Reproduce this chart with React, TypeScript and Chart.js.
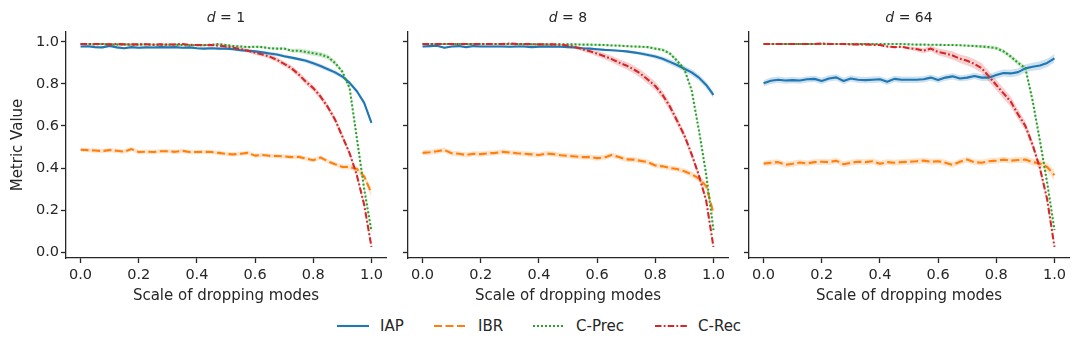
import React, { useEffect, useRef } from "react";
import { Chart, registerables } from "chart.js";

Chart.register(...registerables);

const FONT = "'DejaVu Sans', sans-serif";
const TEXT_COLOR = "#262626";

// ---------- data ----------
const X_VALUES = [0, 0.025, 0.05, 0.075, 0.1, 0.125, 0.15, 0.175, 0.2, 0.225, 0.25, 0.275, 0.3, 0.325, 0.35, 0.375, 0.4, 0.425, 0.45, 0.475, 0.5, 0.525, 0.55, 0.575, 0.6, 0.625, 0.65, 0.675, 0.7, 0.725, 0.75, 0.775, 0.8, 0.825, 0.85, 0.875, 0.9, 0.925, 0.95, 0.975, 1];

const X_TICKS = [0, 0.2, 0.4, 0.6, 0.8, 1.0];
const Y_TICKS = [0, 0.2, 0.4, 0.6, 0.8, 1.0];

const SERIES_NAMES = ["IAP", "IBR", "C-Prec", "C-Rec"];
const PANEL_TITLES = ["1", "8", "64"];

// d = 1
const IAP_D1 = [0.978, 0.979, 0.975, 0.974, 0.981, 0.974, 0.97, 0.975, 0.972, 0.974, 0.973, 0.975, 0.974, 0.975, 0.972, 0.974, 0.97, 0.968, 0.97, 0.968, 0.968, 0.965, 0.96, 0.958, 0.955, 0.95, 0.945, 0.94, 0.932, 0.925, 0.918, 0.91, 0.898, 0.885, 0.87, 0.855, 0.835, 0.805, 0.765, 0.71, 0.615];
const IBR_D1 = [0.487, 0.485, 0.483, 0.481, 0.485, 0.482, 0.478, 0.49, 0.476, 0.478, 0.476, 0.48, 0.48, 0.477, 0.482, 0.476, 0.476, 0.477, 0.476, 0.472, 0.467, 0.465, 0.468, 0.472, 0.459, 0.462, 0.458, 0.457, 0.455, 0.452, 0.453, 0.445, 0.437, 0.45, 0.432, 0.418, 0.405, 0.405, 0.395, 0.36, 0.28];
const CPREC_D1 = [0.99, 0.99, 0.988, 0.99, 0.988, 0.987, 0.988, 0.986, 0.987, 0.988, 0.986, 0.986, 0.987, 0.986, 0.985, 0.984, 0.984, 0.985, 0.986, 0.99, 0.985, 0.98, 0.978, 0.975, 0.977, 0.975, 0.97, 0.968, 0.968, 0.958, 0.958, 0.952, 0.946, 0.94, 0.928, 0.9, 0.858, 0.78, 0.54, 0.3, 0.1];
const CREC_D1 = [0.99, 0.99, 0.99, 0.99, 0.988, 0.99, 0.988, 0.988, 0.988, 0.989, 0.987, 0.988, 0.987, 0.988, 0.99, 0.986, 0.985, 0.984, 0.985, 0.982, 0.978, 0.972, 0.966, 0.958, 0.948, 0.94, 0.93, 0.915, 0.895, 0.875, 0.845, 0.81, 0.78, 0.74, 0.69, 0.63, 0.55, 0.47, 0.365, 0.225, 0.025];

const IAP_D1_ERR = [0.005, 0.005, 0.005, 0.005, 0.005, 0.005, 0.005, 0.005, 0.005, 0.005, 0.005, 0.005, 0.005, 0.005, 0.005, 0.005, 0.005, 0.005, 0.005, 0.005, 0.006, 0.006, 0.007, 0.007, 0.008, 0.008, 0.008, 0.008, 0.008, 0.008, 0.008, 0.009, 0.01, 0.01, 0.01, 0.01, 0.01, 0.01, 0.01, 0.01, 0.012];
const IBR_D1_ERR = [0.01, 0.01, 0.01, 0.01, 0.01, 0.01, 0.01, 0.01, 0.01, 0.01, 0.01, 0.01, 0.01, 0.01, 0.01, 0.01, 0.01, 0.01, 0.01, 0.01, 0.01, 0.01, 0.01, 0.01, 0.01, 0.01, 0.01, 0.01, 0.01, 0.01, 0.01, 0.01, 0.01, 0.01, 0.01, 0.01, 0.012, 0.012, 0.014, 0.016, 0.02];
const CPREC_D1_ERR = [0.005, 0.005, 0.005, 0.005, 0.005, 0.005, 0.005, 0.005, 0.005, 0.005, 0.005, 0.005, 0.005, 0.005, 0.005, 0.005, 0.005, 0.005, 0.005, 0.005, 0.005, 0.005, 0.005, 0.005, 0.005, 0.005, 0.005, 0.005, 0.006, 0.008, 0.01, 0.012, 0.012, 0.012, 0.012, 0.012, 0.01, 0.01, 0.01, 0.01, 0.01];
const CREC_D1_ERR = [0.004, 0.004, 0.004, 0.004, 0.004, 0.004, 0.004, 0.004, 0.004, 0.004, 0.004, 0.004, 0.004, 0.004, 0.004, 0.004, 0.004, 0.004, 0.004, 0.004, 0.006, 0.007, 0.008, 0.009, 0.01, 0.01, 0.012, 0.012, 0.012, 0.013, 0.014, 0.015, 0.015, 0.015, 0.015, 0.015, 0.014, 0.013, 0.012, 0.01, 0.008];

// d = 8
const IAP_D8 = [0.978, 0.98, 0.982, 0.972, 0.978, 0.98, 0.975, 0.98, 0.978, 0.978, 0.978, 0.978, 0.977, 0.978, 0.978, 0.975, 0.977, 0.978, 0.977, 0.977, 0.975, 0.973, 0.97, 0.968, 0.965, 0.962, 0.96, 0.958, 0.955, 0.95, 0.945, 0.938, 0.93, 0.92, 0.905, 0.89, 0.872, 0.855, 0.83, 0.795, 0.748];
const IBR_D8 = [0.472, 0.475, 0.48, 0.486, 0.47, 0.468, 0.462, 0.468, 0.466, 0.47, 0.472, 0.477, 0.474, 0.47, 0.468, 0.465, 0.462, 0.469, 0.466, 0.461, 0.458, 0.455, 0.452, 0.452, 0.447, 0.45, 0.462, 0.452, 0.441, 0.44, 0.434, 0.428, 0.412, 0.408, 0.4, 0.395, 0.385, 0.37, 0.35, 0.315, 0.185];
const CPREC_D8 = [0.99, 0.99, 0.99, 0.99, 0.99, 0.99, 0.99, 0.99, 0.99, 0.99, 0.99, 0.99, 0.99, 0.989, 0.989, 0.988, 0.988, 0.988, 0.987, 0.988, 0.988, 0.988, 0.987, 0.987, 0.986, 0.985, 0.983, 0.982, 0.98, 0.978, 0.977, 0.975, 0.968, 0.962, 0.945, 0.91, 0.87, 0.77, 0.58, 0.37, 0.105];
const CREC_D8 = [0.99, 0.99, 0.99, 0.99, 0.99, 0.99, 0.99, 0.99, 0.99, 0.99, 0.99, 0.99, 0.992, 0.99, 0.99, 0.989, 0.988, 0.988, 0.988, 0.987, 0.982, 0.975, 0.965, 0.955, 0.945, 0.932, 0.918, 0.902, 0.888, 0.87, 0.848, 0.82, 0.79, 0.748, 0.693, 0.625, 0.555, 0.465, 0.365, 0.245, 0.025];

const IAP_D8_ERR = [0.005, 0.005, 0.005, 0.005, 0.005, 0.005, 0.005, 0.005, 0.005, 0.005, 0.005, 0.005, 0.005, 0.005, 0.005, 0.005, 0.005, 0.005, 0.005, 0.005, 0.005, 0.005, 0.005, 0.005, 0.005, 0.005, 0.005, 0.005, 0.006, 0.007, 0.008, 0.009, 0.01, 0.011, 0.012, 0.013, 0.014, 0.015, 0.015, 0.015, 0.015];
const IBR_D8_ERR = [0.012, 0.012, 0.012, 0.012, 0.012, 0.012, 0.012, 0.012, 0.012, 0.012, 0.012, 0.012, 0.012, 0.012, 0.012, 0.012, 0.012, 0.012, 0.012, 0.012, 0.012, 0.012, 0.012, 0.012, 0.012, 0.012, 0.012, 0.012, 0.012, 0.012, 0.012, 0.012, 0.012, 0.012, 0.012, 0.012, 0.013, 0.014, 0.016, 0.018, 0.02];
const CPREC_D8_ERR = [0.004, 0.004, 0.004, 0.004, 0.004, 0.004, 0.004, 0.004, 0.004, 0.004, 0.004, 0.004, 0.004, 0.004, 0.004, 0.004, 0.004, 0.004, 0.004, 0.004, 0.004, 0.004, 0.004, 0.004, 0.004, 0.004, 0.004, 0.004, 0.004, 0.004, 0.005, 0.006, 0.007, 0.008, 0.009, 0.01, 0.01, 0.01, 0.01, 0.01, 0.01];
const CREC_D8_ERR = [0.004, 0.004, 0.004, 0.004, 0.004, 0.004, 0.004, 0.004, 0.004, 0.004, 0.004, 0.004, 0.004, 0.004, 0.004, 0.004, 0.004, 0.004, 0.004, 0.004, 0.006, 0.008, 0.01, 0.012, 0.014, 0.015, 0.016, 0.017, 0.018, 0.019, 0.02, 0.02, 0.02, 0.02, 0.02, 0.019, 0.018, 0.016, 0.014, 0.012, 0.008];

// d = 64
const IAP_D64 = [0.803, 0.815, 0.82, 0.816, 0.818, 0.816, 0.822, 0.824, 0.814, 0.826, 0.831, 0.814, 0.826, 0.82, 0.818, 0.82, 0.822, 0.81, 0.824, 0.82, 0.82, 0.82, 0.822, 0.83, 0.819, 0.83, 0.836, 0.826, 0.83, 0.838, 0.83, 0.83, 0.842, 0.852, 0.85, 0.856, 0.874, 0.882, 0.888, 0.9, 0.922];
const IBR_D64 = [0.421, 0.425, 0.428, 0.415, 0.42, 0.426, 0.422, 0.428, 0.43, 0.428, 0.435, 0.418, 0.425, 0.43, 0.428, 0.432, 0.42, 0.428, 0.425, 0.428, 0.43, 0.432, 0.435, 0.43, 0.432, 0.425, 0.415, 0.43, 0.44, 0.428, 0.425, 0.432, 0.435, 0.44, 0.435, 0.438, 0.44, 0.428, 0.422, 0.405, 0.366];
const CPREC_D64 = [0.99, 0.99, 0.99, 0.99, 0.99, 0.99, 0.99, 0.99, 0.99, 0.99, 0.99, 0.99, 0.99, 0.99, 0.99, 0.99, 0.99, 0.99, 0.99, 0.99, 0.988, 0.987, 0.987, 0.986, 0.986, 0.985, 0.985, 0.984, 0.982, 0.98, 0.978, 0.975, 0.97, 0.955, 0.93, 0.9, 0.875, 0.72, 0.53, 0.33, 0.105];
const CREC_D64 = [0.99, 0.99, 0.99, 0.99, 0.99, 0.99, 0.99, 0.99, 0.992, 0.99, 0.99, 0.99, 0.988, 0.988, 0.988, 0.986, 0.985, 0.978, 0.975, 0.977, 0.97, 0.966, 0.958, 0.968, 0.952, 0.945, 0.935, 0.92, 0.91, 0.895, 0.875, 0.835, 0.795, 0.755, 0.715, 0.655, 0.6, 0.51, 0.4, 0.25, 0.025];

const IAP_D64_ERR = [0.015, 0.015, 0.015, 0.015, 0.015, 0.015, 0.015, 0.015, 0.015, 0.015, 0.015, 0.015, 0.015, 0.015, 0.015, 0.015, 0.015, 0.015, 0.015, 0.015, 0.015, 0.015, 0.015, 0.015, 0.015, 0.015, 0.015, 0.015, 0.015, 0.015, 0.016, 0.016, 0.017, 0.017, 0.018, 0.018, 0.019, 0.019, 0.02, 0.02, 0.02];
const IBR_D64_ERR = [0.014, 0.014, 0.014, 0.014, 0.014, 0.014, 0.014, 0.014, 0.014, 0.014, 0.014, 0.014, 0.014, 0.014, 0.014, 0.014, 0.014, 0.014, 0.014, 0.014, 0.014, 0.014, 0.014, 0.014, 0.014, 0.014, 0.014, 0.014, 0.014, 0.014, 0.014, 0.014, 0.014, 0.014, 0.014, 0.014, 0.015, 0.016, 0.018, 0.02, 0.025];
const CPREC_D64_ERR = [0.004, 0.004, 0.004, 0.004, 0.004, 0.004, 0.004, 0.004, 0.004, 0.004, 0.004, 0.004, 0.004, 0.004, 0.004, 0.004, 0.004, 0.004, 0.004, 0.004, 0.004, 0.004, 0.004, 0.004, 0.004, 0.004, 0.004, 0.004, 0.005, 0.006, 0.007, 0.008, 0.009, 0.01, 0.011, 0.012, 0.012, 0.012, 0.012, 0.01, 0.01];
const CREC_D64_ERR = [0.005, 0.005, 0.005, 0.005, 0.005, 0.005, 0.005, 0.005, 0.005, 0.005, 0.005, 0.005, 0.005, 0.005, 0.005, 0.005, 0.005, 0.005, 0.005, 0.005, 0.008, 0.01, 0.012, 0.014, 0.016, 0.018, 0.02, 0.02, 0.022, 0.022, 0.024, 0.025, 0.025, 0.025, 0.025, 0.024, 0.022, 0.02, 0.018, 0.014, 0.01];

const PANEL_MEANS = [
  [IAP_D1, IBR_D1, CPREC_D1, CREC_D1],
  [IAP_D8, IBR_D8, CPREC_D8, CREC_D8],
  [IAP_D64, IBR_D64, CPREC_D64, CREC_D64],
];
const PANEL_ERRS = [
  [IAP_D1_ERR, IBR_D1_ERR, CPREC_D1_ERR, CREC_D1_ERR],
  [IAP_D8_ERR, IBR_D8_ERR, CPREC_D8_ERR, CREC_D8_ERR],
  [IAP_D64_ERR, IBR_D64_ERR, CPREC_D64_ERR, CREC_D64_ERR],
];

// ---------- styles ----------
const COLORS = ["#1f77b4", "#ff7f0e", "#2ca02c", "#d62728"];
const BAND_COLORS = [
  "rgba(31,119,180,0.22)",
  "rgba(255,127,14,0.22)",
  "rgba(44,160,44,0.22)",
  "rgba(214,39,40,0.22)",
];
const DASHES: number[][] = [[], [8, 3.5], [2, 2], [6.5, 2.2, 1.8, 2.2]];
const LINE_WIDTH = 2.1;

// layout (pixels in page)
const SPINE_LEFT = [66, 408, 749];
const PLOT_W = 320;
const PLOT_TOP = 32;
const CANVAS_H = 312;
const X_AXIS_H = 54;
const RIGHT_PAD = 9;
const LEGEND_Y = 326;
const LEGEND_LINE_X = [337, 434, 533, 655];
const LEGEND_TEXT_X = [380, 478, 576, 698];

function Panel({ idx }: { idx: number }) {
  const ref = useRef<HTMLCanvasElement | null>(null);
  const yw = idx === 0 ? 66 : 12;
  const left = SPINE_LEFT[idx] - yw;
  const width = yw + PLOT_W + RIGHT_PAD;

  useEffect(() => {
    if (!ref.current) return;
    const means = PANEL_MEANS[idx];
    const errs = PANEL_ERRS[idx];
    const datasets: any[] = [];
    means.forEach((m, s) => {
      const e = errs[s];
      datasets.push({
        label: SERIES_NAMES[s] + " lo",
        data: X_VALUES.map((x, i) => ({ x, y: m[i] - e[i] })),
        borderColor: "rgba(0,0,0,0)",
        borderWidth: 0,
        pointRadius: 0,
        fill: false,
        order: 10,
      });
      datasets.push({
        label: SERIES_NAMES[s] + " hi",
        data: X_VALUES.map((x, i) => ({ x, y: m[i] + e[i] })),
        borderColor: "rgba(0,0,0,0)",
        borderWidth: 0,
        pointRadius: 0,
        backgroundColor: BAND_COLORS[s],
        fill: "-1",
        order: 10,
      });
    });
    means.forEach((m, s) => {
      datasets.push({
        label: SERIES_NAMES[s],
        data: X_VALUES.map((x, i) => ({ x, y: m[i] })),
        borderColor: COLORS[s],
        borderWidth: LINE_WIDTH,
        borderDash: DASHES[s],
        borderCapStyle: "butt",
        borderJoinStyle: "round",
        pointRadius: 0,
        fill: false,
        tension: 0,
        order: 4 - s,
      });
    });

    const titlePlugin = {
      id: "panelTitle",
      afterDraw(chart: any) {
        const ctx = chart.ctx;
        const ca = chart.chartArea;
        const cx = (ca.left + ca.right) / 2;
        const size = 14;
        ctx.save();
        ctx.fillStyle = TEXT_COLOR;
        ctx.textBaseline = "middle";
        ctx.textAlign = "left";
        const italic = `italic ${size}px ${FONT}`;
        const normal = `${size}px ${FONT}`;
        const rest = " = " + PANEL_TITLES[idx];
        ctx.font = italic;
        const w1 = ctx.measureText("d").width;
        ctx.font = normal;
        const w2 = ctx.measureText(rest).width;
        const x0 = cx - (w1 + w2) / 2;
        ctx.font = italic;
        ctx.fillText("d", x0, 18);
        ctx.font = normal;
        ctx.fillText(rest, x0 + w1, 18);
        ctx.restore();
      },
    };

    const chart = new Chart(ref.current, {
      type: "line",
      data: { datasets },
      plugins: [titlePlugin],
      options: {
        animation: false,
        responsive: false,
        maintainAspectRatio: false,
        layout: { padding: { left: 0, top: PLOT_TOP, right: RIGHT_PAD, bottom: 0 } },
        plugins: {
          legend: { display: false },
          tooltip: { enabled: false },
          title: { display: false },
        },
        scales: {
          x: {
            type: "linear",
            min: -0.05,
            max: 1.05,
            afterBuildTicks: (s: any) => {
              s.ticks = X_TICKS.map((v) => ({ value: v }));
            },
            afterFit: (s: any) => {
              s.height = X_AXIS_H;
            },
            grid: {
              display: true,
              drawOnChartArea: false,
              drawTicks: true,
              tickLength: 5,
              tickColor: TEXT_COLOR,
              tickWidth: 1.3,
            },
            border: { display: true, color: TEXT_COLOR, width: 1.3 },
            ticks: {
              color: TEXT_COLOR,
              font: { family: FONT, size: 14.5 },
              padding: 4,
              autoSkip: false,
              maxRotation: 0,
              callback: (v: any) => Number(v).toFixed(1),
            },
            title: {
              display: true,
              text: "Scale of dropping modes",
              color: TEXT_COLOR,
              font: { family: FONT, size: 15 },
              padding: { top: 0, bottom: 7 },
            },
          },
          y: {
            type: "linear",
            min: -0.028,
            max: 1.047,
            afterBuildTicks: (s: any) => {
              s.ticks = Y_TICKS.map((v) => ({ value: v }));
            },
            afterFit: (s: any) => {
              s.width = yw;
            },
            grid: {
              display: true,
              drawOnChartArea: false,
              drawTicks: true,
              tickLength: 5,
              tickColor: TEXT_COLOR,
              tickWidth: 1.3,
            },
            border: { display: true, color: TEXT_COLOR, width: 1.3 },
            ticks: {
              display: idx === 0,
              color: TEXT_COLOR,
              font: { family: FONT, size: 14.5 },
              padding: 2,
              callback: (v: any) => Number(v).toFixed(1),
            },
            title: {
              display: idx === 0,
              text: "Metric Value",
              color: TEXT_COLOR,
              font: { family: FONT, size: 15 },
              padding: { top: 9, bottom: 0 },
            },
          },
        },
      } as any,
    });
    return () => chart.destroy();
  }, [idx]);

  return (
    <canvas
      ref={ref}
      width={width}
      height={CANVAS_H}
      style={{ position: "absolute", left, top: 0, width, height: CANVAS_H }}
    />
  );
}

function LegendItem({ s }: { s: number }) {
  const dash = DASHES[s].length ? DASHES[s].join(" ") : undefined;
  return (
    <>
      <svg
        width={32}
        height={12}
        style={{ position: "absolute", left: LEGEND_LINE_X[s], top: LEGEND_Y - 6 }}
      >
        <line x1={0} y1={6} x2={32} y2={6} stroke={COLORS[s]} strokeWidth={LINE_WIDTH} strokeDasharray={dash} />
      </svg>
      <span
        style={{
          position: "absolute",
          left: LEGEND_TEXT_X[s],
          top: LEGEND_Y - 9,
          fontSize: 15,
          lineHeight: "18px",
          color: TEXT_COLOR,
          fontFamily: FONT,
          whiteSpace: "nowrap",
        }}
      >
        {SERIES_NAMES[s]}
      </span>
    </>
  );
}

export default function App() {
  return (
    <div
      style={{
        position: "absolute",
        left: 0,
        top: 0,
        width: 1080,
        height: 352,
        background: "#fff",
        overflow: "hidden",
        fontFamily: FONT,
      }}
    >
      {[0, 1, 2].map((i) => (
        <Panel key={i} idx={i} />
      ))}
      {[0, 1, 2, 3].map((s) => (
        <LegendItem key={s} s={s} />
      ))}
    </div>
  );
}
